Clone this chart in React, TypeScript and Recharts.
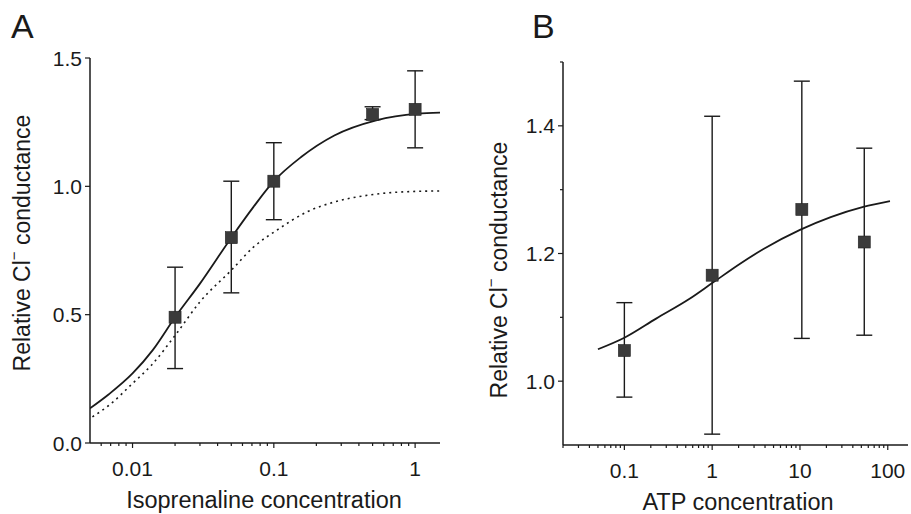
import React from 'react';
import { ComposedChart, Line, Scatter, ErrorBar, XAxis, YAxis } from 'recharts';

// ---------- Panel A: Isoprenaline ----------
const isoConc = [0.02, 0.05, 0.1, 0.5, 1];
const isoMean = [0.49, 0.8, 1.02, 1.28, 1.3];
const isoUpper = [0.685, 1.02, 1.17, 1.31, 1.45];
const isoLower = [0.29, 0.585, 0.87, 1.26, 1.15];

const isoFitX = [0.005, 0.0068, 0.01, 0.0139, 0.02, 0.03, 0.05, 0.0718, 0.1, 0.156, 0.268, 0.53, 1.04, 1.5];
const isoFitY = [0.135, 0.19, 0.271, 0.362, 0.49, 0.621, 0.8, 0.92, 1.02, 1.114, 1.198, 1.257, 1.283, 1.287];

const isoRefX = [0.0052, 0.00686, 0.01, 0.0136, 0.0205, 0.03, 0.05, 0.072, 0.105, 0.171, 0.268, 0.46, 0.79, 1.5];
const isoRefY = [0.102, 0.148, 0.232, 0.303, 0.427, 0.55, 0.673, 0.764, 0.829, 0.9, 0.939, 0.965, 0.978, 0.982];

const isoMajorX = [0.01, 0.1, 1];
const isoMajorXLabels = ['0.01', '0.1', '1'];
const isoMinorX = [0.006, 0.007, 0.008, 0.009, 0.02, 0.03, 0.04, 0.05, 0.06, 0.07, 0.08, 0.09, 0.2, 0.3, 0.4, 0.5, 0.6, 0.7, 0.8, 0.9];
const isoMajorY = [0, 0.5, 1.0, 1.5];
const isoMajorYLabels = ['0.0', '0.5', '1.0', '1.5'];

// ---------- Panel B: ATP ----------
const atpConc = [0.1, 1, 10.5, 54];
const atpMean = [1.048, 1.166, 1.269, 1.218];
const atpUpper = [1.123, 1.415, 1.47, 1.365];
const atpLower = [0.975, 0.917, 1.067, 1.072];

const atpFitX = [0.05, 0.1, 0.23, 0.553, 1.01, 2.08, 3.84, 10, 22.4, 52.6, 106];
const atpFitY = [1.05, 1.068, 1.098, 1.129, 1.154, 1.184, 1.207, 1.237, 1.257, 1.273, 1.282];

const atpMajorX = [0.1, 1, 10, 100];
const atpMajorXLabels = ['0.1', '1', '10', '100'];
const atpMinorX = [0.02, 0.03, 0.04, 0.05, 0.06, 0.07, 0.08, 0.09, 0.2, 0.3, 0.4, 0.5, 0.6, 0.7, 0.8, 0.9, 2, 3, 4, 5, 6, 7, 8, 9, 20, 30, 40, 50, 60, 70, 80, 90];
const atpMajorY = [1.0, 1.2, 1.4];
const atpMajorYLabels = ['1.0', '1.2', '1.4'];
const atpMinorY = [1.1, 1.3, 1.5];

const FONT = '"Liberation Sans", Arial, sans-serif';
const INK = '#1a1a1a';

const toPoints = (xs: number[], ys: number[]) => xs.map((x, i) => ({ x, y: ys[i] }));
const toErrPoints = (xs: number[], m: number[], lo: number[], hi: number[]) =>
  xs.map((x, i) => ({ x, y: m[i], err: [m[i] - lo[i], hi[i] - m[i]] }));

const makeXTick = (majors: number[], labels: string[]) => (props: any) => {
  const { x, y, payload } = props;
  const idx = majors.indexOf(payload.value);
  const major = idx >= 0;
  return (
    <g>
      <line x1={x} x2={x} y1={y} y2={y + (major ? 5 : 3)} stroke={INK} strokeWidth={1.2} />
      {major && (
        <text x={x} y={y + 25} textAnchor="middle" dominantBaseline="central" fontFamily={FONT} fontSize={21} fill={INK}>
          {labels[idx]}
        </text>
      )}
    </g>
  );
};

const makeYTick = (majors: number[], labels: string[]) => (props: any) => {
  const { x, y, payload } = props;
  const idx = majors.indexOf(payload.value);
  const major = idx >= 0;
  return (
    <g>
      <line x1={x} x2={x - (major ? 5 : 3)} y1={y} y2={y} stroke={INK} strokeWidth={1.2} />
      {major && (
        <text x={x - 8} y={y} textAnchor="end" dominantBaseline="central" fontFamily={FONT} fontSize={21} fill={INK}>
          {labels[idx]}
        </text>
      )}
    </g>
  );
};

const Square = (props: any) => {
  const { cx, cy } = props;
  if (cx == null || cy == null) return null;
  return <rect x={cx - 6} y={cy - 6} width={12} height={12} fill="#3b3b3b" stroke="#222" strokeWidth={0.6} />;
};

const YTitle = ({ x, y }: { x: number; y: number }) => (
  <text transform={`translate(${x},${y}) rotate(-90)`} textAnchor="middle" dominantBaseline="central" fontFamily={FONT} fontSize={23} fill={INK}>
    Relative Cl
    <tspan dy={-9} fontSize={15}>−</tspan>
    <tspan dy={9}> conductance</tspan>
  </text>
);

export default function App() {
  const isoPts = toErrPoints(isoConc, isoMean, isoLower, isoUpper);
  const isoFit = toPoints(isoFitX, isoFitY);
  const isoRef = toPoints(isoRefX, isoRefY);
  const atpPts = toErrPoints(atpConc, atpMean, atpLower, atpUpper);
  const atpFit = toPoints(atpFitX, atpFitY);

  return (
    <div style={{ position: 'absolute', left: 0, top: 0, width: 911, height: 514, background: '#fff' }}>
      <div style={{ position: 'absolute', left: 0, top: 0 }}>
        <ComposedChart width={460} height={514} margin={{ top: 58, right: 20, bottom: 0, left: 0 }}>
          <XAxis
            dataKey="x"
            type="number"
            scale="log"
            domain={[0.005, 1.5]}
            allowDataOverflow
            ticks={[...isoMinorX, ...isoMajorX].sort((a, b) => a - b)}
            interval={0}
            height={71}
            tickSize={0}
            tickMargin={0}
            tickLine={false}
            axisLine={{ stroke: INK, strokeWidth: 1.5 }}
            tick={makeXTick(isoMajorX, isoMajorXLabels)}
          />
          <YAxis
            dataKey="y"
            type="number"
            domain={[0, 1.5]}
            allowDataOverflow
            ticks={isoMajorY}
            interval={0}
            width={90}
            tickSize={0}
            tickMargin={0}
            tickLine={false}
            axisLine={{ stroke: INK, strokeWidth: 1.5 }}
            tick={makeYTick(isoMajorY, isoMajorYLabels)}
          />
          <Line data={isoRef} dataKey="y" type="monotone" dot={false} stroke={INK} strokeWidth={1.6} strokeDasharray="2 4" isAnimationActive={false} />
          <Line data={isoFit} dataKey="y" type="monotone" dot={false} stroke={INK} strokeWidth={1.8} isAnimationActive={false} />
          <Scatter data={isoPts} dataKey="y" shape={<Square />} isAnimationActive={false}>
            <ErrorBar dataKey="err" direction="y" width={8} stroke={INK} strokeWidth={1.4} />
          </Scatter>
        </ComposedChart>
      </div>
      <div style={{ position: 'absolute', left: 460, top: 0 }}>
        <ComposedChart width={451} height={514} margin={{ top: 62, right: 3, bottom: 0, left: 0 }}>
          <XAxis
            dataKey="x"
            type="number"
            scale="log"
            domain={[0.02, 170]}
            allowDataOverflow
            ticks={[...atpMinorX, ...atpMajorX].sort((a, b) => a - b)}
            interval={0}
            height={69}
            tickSize={0}
            tickMargin={0}
            tickLine={false}
            axisLine={{ stroke: INK, strokeWidth: 1.5 }}
            tick={makeXTick(atpMajorX, atpMajorXLabels)}
          />
          <YAxis
            dataKey="y"
            type="number"
            domain={[0.9, 1.5]}
            allowDataOverflow
            ticks={[...atpMajorY, ...atpMinorY].sort((a, b) => a - b)}
            interval={0}
            width={103}
            tickSize={0}
            tickMargin={0}
            tickLine={false}
            axisLine={{ stroke: INK, strokeWidth: 1.5 }}
            tick={makeYTick(atpMajorY, atpMajorYLabels)}
          />
          <Line data={atpFit} dataKey="y" type="monotone" dot={false} stroke={INK} strokeWidth={1.8} isAnimationActive={false} />
          <Scatter data={atpPts} dataKey="y" shape={<Square />} isAnimationActive={false}>
            <ErrorBar dataKey="err" direction="y" width={8} stroke={INK} strokeWidth={1.4} />
          </Scatter>
        </ComposedChart>
      </div>
      <svg width={911} height={514} style={{ position: 'absolute', left: 0, top: 0, pointerEvents: 'none' }}>
        <text x={11} y={38} fontFamily={FONT} fontSize={34} fill={INK}>A</text>
        <text x={532} y={38} fontFamily={FONT} fontSize={34} fill={INK}>B</text>
        <YTitle x={22} y={243} />
        <YTitle x={499} y={270} />
        <text x={264} y={500} textAnchor="middle" dominantBaseline="central" fontFamily={FONT} fontSize={23.5} fill={INK}>Isoprenaline concentration</text>
        <text x={738} y={502} textAnchor="middle" dominantBaseline="central" fontFamily={FONT} fontSize={23.5} fill={INK}>ATP concentration</text>
      </svg>
    </div>
  );
}
